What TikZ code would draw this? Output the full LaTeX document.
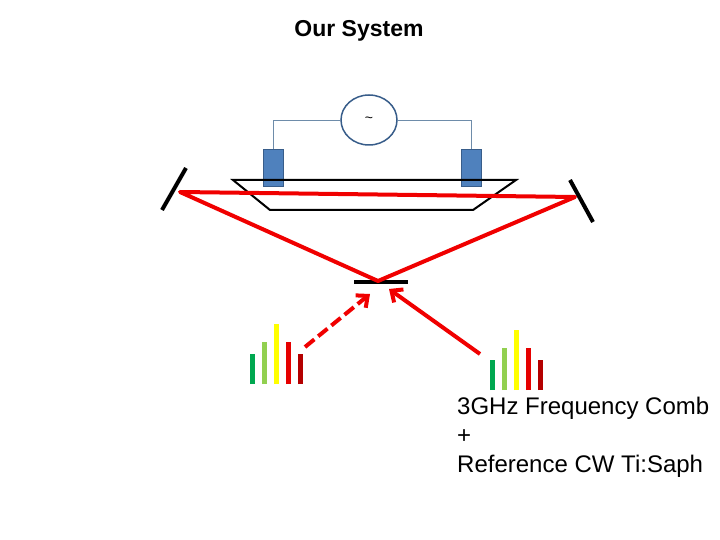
\documentclass[tikz,border=0pt]{standalone}
\usepackage{fontspec}
\setmainfont{Liberation Sans}
\usetikzlibrary{arrows.meta}
\usetikzlibrary{positioning}
\usetikzlibrary{shapes.geometric}
\definecolor{beamred}{RGB}{240,0,0}
\definecolor{wireblue}{RGB}{110,140,170}
\definecolor{eomblue}{RGB}{79,129,189}
\definecolor{eomedge}{RGB}{56,93,138}
\definecolor{combA}{RGB}{0,168,80}
\definecolor{combB}{RGB}{146,208,80}
\definecolor{combC}{RGB}{255,255,0}
\definecolor{combD}{RGB}{230,0,0}
\definecolor{combE}{RGB}{180,0,0}
\tikzset{
  beam/.style = {beamred, line width=4pt},
  mirror/.style = {black, line width=4pt},
  eom/.style = {draw=eomedge, fill=eomblue, line width=1pt, minimum width=20pt, minimum height=37pt, inner sep=0pt},
  wire/.style = {wireblue, line width=0.6pt},
  tooth/.style = {line width=5pt}
}
\begin{document}
\begin{tikzpicture}[x=1pt, y=-1pt]
      \useasboundingbox (0, 0) rectangle (720, 540);

      \node[font=\bfseries\fontsize{23}{26}\selectfont] (title) at (359, 31) {Our System};

      % RF source and electrodes
      \node[draw=eomedge, line width=1.5pt, ellipse, minimum width=56pt, minimum height=50pt] (rf) at (369, 120) {};
      \node[font=\fontsize{14}{14}\selectfont] at (rf) {\textasciitilde};
      \node[eom] (eomL) at (273, 168.5) {};
      \node[eom] (eomR) at (471, 168.5) {};
      \draw[wire] (rf.west) -| (eomL.north);
      \draw[wire] (rf.east) -| (eomR.north);

      % crystal
      \draw[line width=2pt] (233, 180) -- (516, 180) -- (473, 210) -- (270, 210) -- cycle;

      % mirrors
      \coordinate (mL) at (180, 192);
      \coordinate (mR) at (575, 197);
      \coordinate (mB) at (378, 281);
      \draw[mirror] (186, 168) -- (162, 210);
      \draw[mirror] (570, 180) -- (593, 222);
      \draw[mirror] (354, 282) -- (408, 282);

      % cavity beam
      \draw[beam, line join=round] (mL) -- (mR) -- (mB) -- cycle;

      % input beams
      \coordinate (inL) at (305, 347);
      \coordinate (inR) at (480, 354);
      \draw[beam, dashed, dash pattern=on 12pt off 5pt, -{Straight Barb[length=9pt, width=16pt]}] (inL) -- (370, 294);
      \draw[beam, -{Straight Barb[length=9pt, width=16pt]}] (inR) -- (389, 289);

      % comb teeth
      \foreach \c/\dx/\h in {combA/0/30, combB/12/42, combC/24/60, combD/36/42, combE/48/30} {
        \draw[tooth, \c] (252+\dx, 384) -- ++(0, -\h);
        \draw[tooth, \c] (492+\dx, 390) -- ++(0, -\h);
      }

      \node[anchor=north west, align=left, inner sep=0pt, font=\fontsize{24}{29}\selectfont] (label) at (457, 397)
        {3GHz Frequency Comb\\+\\Reference CW Ti:Saph};
    \end{tikzpicture}
\end{document}
